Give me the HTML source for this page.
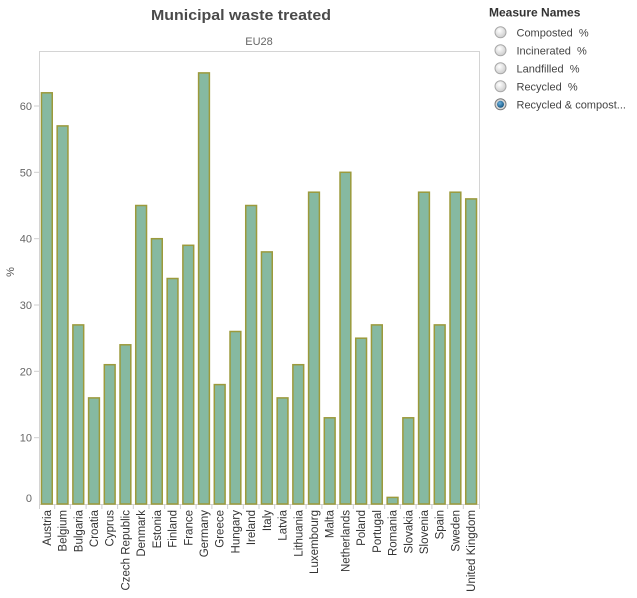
<!DOCTYPE html>
<html>
<head>
<meta charset="utf-8">
<style>
html,body{margin:0;padding:0;background:#fff;}
svg{display:block;}
text{font-family:"Liberation Sans",Arial,sans-serif;}
</style>
</head>
<body>
<svg width="637" height="598" viewBox="0 0 637 598" xmlns="http://www.w3.org/2000/svg">
<defs>
<radialGradient id="rg" cx="40%" cy="35%" r="70%">
<stop offset="0" stop-color="#ffffff"/>
<stop offset="1" stop-color="#c9c9c9"/>
</radialGradient>
<radialGradient id="rs" cx="40%" cy="35%" r="70%">
<stop offset="0" stop-color="#6fb3e0"/>
<stop offset="1" stop-color="#0d4f7c"/>
</radialGradient>
</defs>

<!-- Title -->
<text x="151" y="20" font-size="15" font-weight="bold" fill="#4a4a4a" textLength="180" lengthAdjust="spacingAndGlyphs">Municipal waste treated</text>
<text x="259" y="45" font-size="11" fill="#666" text-anchor="middle">EU28</text>

<!-- Plot frame -->
<line x1="39" y1="51.5" x2="479.5" y2="51.5" stroke="#d4d4d4" stroke-width="1"/>
<line x1="39.5" y1="51" x2="39.5" y2="504" stroke="#d4d4d4" stroke-width="1"/>
<line x1="479.5" y1="51" x2="479.5" y2="504" stroke="#d4d4d4" stroke-width="1"/>
<line x1="39" y1="504.5" x2="480" y2="504.5" stroke="#d4d4d4" stroke-width="1"/>

<!-- Y ticks -->
<g stroke="#cfcfcf" stroke-width="1">
<line x1="34" y1="437.7" x2="39" y2="437.7"/>
<line x1="34" y1="371.3" x2="39" y2="371.3"/>
<line x1="34" y1="305.0" x2="39" y2="305.0"/>
<line x1="34" y1="238.7" x2="39" y2="238.7"/>
<line x1="34" y1="172.3" x2="39" y2="172.3"/>
<line x1="34" y1="106.0" x2="39" y2="106.0"/>
</g>
<g font-size="11" fill="#666" text-anchor="end">
<text x="32" y="502">0</text>
<text x="32" y="441.7">10</text>
<text x="32" y="375.3">20</text>
<text x="32" y="309">30</text>
<text x="32" y="242.7">40</text>
<text x="32" y="176.3">50</text>
<text x="32" y="110">60</text>
</g>
<text transform="translate(14,272) rotate(-90)" font-size="11" fill="#555" text-anchor="middle">%</text>

<!-- Bars -->
<g fill="#86b9a1" stroke="#9c9a3b" stroke-width="1.5">
<rect x="41.45" y="92.8" width="10.8" height="411.2"/>
<rect x="57.16" y="125.9" width="10.8" height="378.1"/>
<rect x="72.88" y="324.9" width="10.8" height="179.1"/>
<rect x="88.59" y="397.9" width="10.8" height="106.1"/>
<rect x="104.31" y="364.7" width="10.8" height="139.3"/>
<rect x="120.02" y="344.8" width="10.8" height="159.2"/>
<rect x="135.73" y="205.5" width="10.8" height="298.5"/>
<rect x="151.45" y="238.7" width="10.8" height="265.3"/>
<rect x="167.16" y="278.5" width="10.8" height="225.5"/>
<rect x="182.88" y="245.3" width="10.8" height="258.7"/>
<rect x="198.59" y="72.9" width="10.8" height="431.1"/>
<rect x="214.30" y="384.6" width="10.8" height="119.4"/>
<rect x="230.02" y="331.5" width="10.8" height="172.5"/>
<rect x="245.73" y="205.5" width="10.8" height="298.5"/>
<rect x="261.45" y="251.9" width="10.8" height="252.1"/>
<rect x="277.16" y="397.9" width="10.8" height="106.1"/>
<rect x="292.87" y="364.7" width="10.8" height="139.3"/>
<rect x="308.59" y="192.2" width="10.8" height="311.8"/>
<rect x="324.30" y="417.8" width="10.8" height="86.2"/>
<rect x="340.02" y="172.3" width="10.8" height="331.7"/>
<rect x="355.73" y="338.2" width="10.8" height="165.8"/>
<rect x="371.44" y="324.9" width="10.8" height="179.1"/>
<rect x="387.16" y="497.4" width="10.8" height="6.6"/>
<rect x="402.87" y="417.8" width="10.8" height="86.2"/>
<rect x="418.59" y="192.2" width="10.8" height="311.8"/>
<rect x="434.30" y="324.9" width="10.8" height="179.1"/>
<rect x="450.01" y="192.2" width="10.8" height="311.8"/>
<rect x="465.73" y="198.9" width="10.8" height="305.1"/>
</g>

<!-- X ticks -->
<g stroke="#cfcfcf" stroke-width="1">
<line x1="39.5" y1="504" x2="39.5" y2="509"/>
<line x1="54.7" y1="504" x2="54.7" y2="509"/>
<line x1="70.4" y1="504" x2="70.4" y2="509"/>
<line x1="86.1" y1="504" x2="86.1" y2="509"/>
<line x1="101.9" y1="504" x2="101.9" y2="509"/>
<line x1="117.6" y1="504" x2="117.6" y2="509"/>
<line x1="133.3" y1="504" x2="133.3" y2="509"/>
<line x1="149.0" y1="504" x2="149.0" y2="509"/>
<line x1="164.7" y1="504" x2="164.7" y2="509"/>
<line x1="180.4" y1="504" x2="180.4" y2="509"/>
<line x1="196.1" y1="504" x2="196.1" y2="509"/>
<line x1="211.9" y1="504" x2="211.9" y2="509"/>
<line x1="227.6" y1="504" x2="227.6" y2="509"/>
<line x1="243.3" y1="504" x2="243.3" y2="509"/>
<line x1="259.0" y1="504" x2="259.0" y2="509"/>
<line x1="274.7" y1="504" x2="274.7" y2="509"/>
<line x1="290.4" y1="504" x2="290.4" y2="509"/>
<line x1="306.1" y1="504" x2="306.1" y2="509"/>
<line x1="321.9" y1="504" x2="321.9" y2="509"/>
<line x1="337.6" y1="504" x2="337.6" y2="509"/>
<line x1="353.3" y1="504" x2="353.3" y2="509"/>
<line x1="369.0" y1="504" x2="369.0" y2="509"/>
<line x1="384.7" y1="504" x2="384.7" y2="509"/>
<line x1="400.4" y1="504" x2="400.4" y2="509"/>
<line x1="416.1" y1="504" x2="416.1" y2="509"/>
<line x1="431.9" y1="504" x2="431.9" y2="509"/>
<line x1="447.6" y1="504" x2="447.6" y2="509"/>
<line x1="463.3" y1="504" x2="463.3" y2="509"/>
<line x1="479.5" y1="504" x2="479.5" y2="509"/>
</g>

<!-- X labels -->
<g font-size="11.5" fill="#333" text-anchor="end">
<text transform="translate(50.9,510) rotate(-90)">Austria</text>
<text transform="translate(66.6,510) rotate(-90)">Belgium</text>
<text transform="translate(82.3,510) rotate(-90)">Bulgaria</text>
<text transform="translate(98.0,510) rotate(-90)">Croatia</text>
<text transform="translate(113.7,510) rotate(-90)">Cyprus</text>
<text transform="translate(129.4,510) rotate(-90)">Czech Republic</text>
<text transform="translate(145.1,510) rotate(-90)">Denmark</text>
<text transform="translate(160.9,510) rotate(-90)">Estonia</text>
<text transform="translate(176.6,510) rotate(-90)">Finland</text>
<text transform="translate(192.3,510) rotate(-90)">France</text>
<text transform="translate(208.0,510) rotate(-90)">Germany</text>
<text transform="translate(223.7,510) rotate(-90)">Greece</text>
<text transform="translate(239.4,510) rotate(-90)">Hungary</text>
<text transform="translate(255.1,510) rotate(-90)">Ireland</text>
<text transform="translate(270.9,510) rotate(-90)">Italy</text>
<text transform="translate(286.6,510) rotate(-90)">Latvia</text>
<text transform="translate(302.3,510) rotate(-90)">Lithuania</text>
<text transform="translate(318.0,510) rotate(-90)">Luxembourg</text>
<text transform="translate(333.7,510) rotate(-90)">Malta</text>
<text transform="translate(349.4,510) rotate(-90)">Netherlands</text>
<text transform="translate(365.1,510) rotate(-90)">Poland</text>
<text transform="translate(380.9,510) rotate(-90)">Portugal</text>
<text transform="translate(396.6,510) rotate(-90)">Romania</text>
<text transform="translate(412.3,510) rotate(-90)">Slovakia</text>
<text transform="translate(428.0,510) rotate(-90)">Slovenia</text>
<text transform="translate(443.7,510) rotate(-90)">Spain</text>
<text transform="translate(459.4,510) rotate(-90)">Sweden</text>
<text transform="translate(475.1,510) rotate(-90)">United Kingdom</text>
</g>

<!-- Legend -->
<text x="489" y="16.5" font-size="12" font-weight="bold" fill="#333">Measure Names</text>
<g stroke="#a8a8a8" stroke-width="1">
<circle cx="500.5" cy="32.3" r="5.5" fill="url(#rg)"/>
<circle cx="500.5" cy="50.3" r="5.5" fill="url(#rg)"/>
<circle cx="500.5" cy="68.3" r="5.5" fill="url(#rg)"/>
<circle cx="500.5" cy="86.3" r="5.5" fill="url(#rg)"/>
<circle cx="500.5" cy="104.3" r="5.5" fill="#d8d8d8" stroke="#7a7a7a"/>
</g>
<circle cx="500.5" cy="104.3" r="3.5" fill="url(#rs)"/>
<g font-size="11" fill="#444">
<text x="516.5" y="36.3">Composted&#160; %</text>
<text x="516.5" y="54.3">Incinerated&#160; %</text>
<text x="516.5" y="72.3">Landfilled&#160; %</text>
<text x="516.5" y="90.3">Recycled&#160; %</text>
<text x="516.5" y="108.3">Recycled &amp; compost...</text>
</g>
</svg>
</body>
</html>
